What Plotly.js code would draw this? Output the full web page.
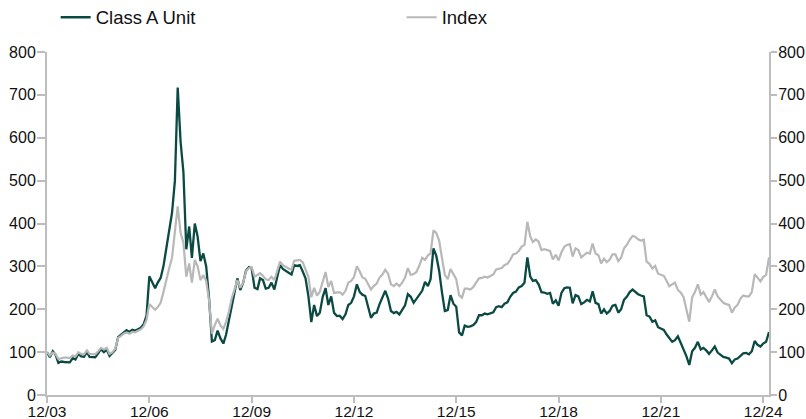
<!DOCTYPE html>
<html>
<head>
<meta charset="utf-8">
<script src="https://cdn.plot.ly/plotly-3.0.1.min.js"></script>
<style>html,body{margin:0;padding:0;background:#fff}#chart{width:806px;height:419px}</style>
</head>
<body>
<div id="chart"></div>
<script>
// Monthly observations, starting December 2003
var startYear = 2003, startMonth = 12;

var classA = [
100,88,102,94,75,78,77,77,76,86,83,96,
90,89,100,89,88,88,97,107,100,106,91,97,
105,135,141,146,151,147,152,150,154,157,165,185,
277,262,249,262,273,300,340,385,425,500,717,590,
520,340,393,320,400,370,312,330,300,225,125,128,
150,132,120,140,172,210,235,272,245,262,290,298,
295,250,247,272,268,248,250,262,246,275,303,294,
289,285,281,303,301,303,288,272,230,170,210,184,
192,229,249,210,230,192,184,185,177,188,210,215,
230,258,240,234,231,205,180,190,192,212,229,243,
225,196,191,194,188,200,209,235,229,215,224,234,
243,264,254,270,342,325,290,240,196,198,233,213,
206,146,139,162,159,160,163,170,186,186,190,188,
190,193,205,207,205,213,216,229,238,241,251,254,
262,321,276,266,268,258,240,239,236,238,213,221,
208,238,249,251,250,214,233,230,212,216,222,218,
242,215,212,190,200,190,196,208,210,192,200,222,
229,240,246,241,235,232,230,186,183,171,174,158,
155,152,141,132,124,128,137,122,108,90,70,102,
110,124,106,110,104,96,104,113,99,94,89,87,
85,74,83,85,92,97,98,95,102,126,117,113,
120,124,147
];

var indexSeries = [
100,92,99,96,84,86,87,87,86,92,90,100,
96,95,104,96,95,95,102,110,106,110,96,100,
108,133,138,143,146,143,147,146,150,153,160,175,
212,205,199,205,215,240,270,295,320,385,440,378,
355,276,307,262,315,300,268,280,266,220,143,163,
178,162,154,170,194,225,245,268,250,262,288,296,
298,276,280,284,278,270,268,276,268,290,311,303,
298,295,292,313,314,315,310,294,275,228,250,232,
241,264,287,252,266,238,239,240,234,243,262,266,
275,300,288,274,271,258,246,254,260,274,281,292,
283,258,254,260,254,262,274,296,280,282,287,302,
320,315,326,330,384,378,360,320,280,270,294,282,
270,233,227,248,248,246,252,262,272,273,276,274,
278,281,293,294,296,303,306,315,328,330,336,346,
350,404,370,357,363,358,338,340,338,336,316,327,
314,333,346,350,352,323,342,338,321,326,332,330,
353,330,326,307,318,310,316,328,328,312,320,342,
350,362,371,369,363,360,362,311,306,295,301,283,
280,278,266,254,258,262,245,239,228,200,171,228,
240,258,234,240,229,217,230,246,230,222,215,212,
210,192,204,210,225,232,230,230,240,282,273,265,
275,280,321
];

var tickVals = ['2003-12-01','2006-12-01','2009-12-01','2012-12-01','2015-12-01','2018-12-01','2021-12-01','2024-12-01'];
var tickText = ['12/03','12/06','12/09','12/12','12/15','12/18','12/21','12/24'];
var yTicks = [0,100,200,300,400,500,600,700,800];

function monthDates(n) {
  var out = [];
  for (var i = 0; i < n; i++) {
    var m0 = startMonth - 1 + i;
    var y = startYear + Math.floor(m0 / 12);
    var m = (m0 % 12) + 1;
    out.push(y + '-' + (m < 10 ? '0' + m : m) + '-01');
  }
  return out;
}
var dates = monthDates(classA.length);

var axisColor = '#bdbdbd';
var fontFam = 'Liberation Sans, Arial, sans-serif';

var traces = [
  {x: dates, y: indexSeries, name: 'Index', type: 'scatter', mode: 'lines',
   line: {color: '#b8b8b8', width: 2.2}, yaxis: 'y2'},
  {x: dates, y: classA, name: 'Class A Unit', type: 'scatter', mode: 'lines',
   line: {color: '#0b4a43', width: 2.3}, yaxis: 'y'}
];

var layout = {
  width: 806, height: 419,
  margin: {l: 47, r: 37, t: 52, b: 24, pad: 0, autoexpand: false},
  paper_bgcolor: '#fff', plot_bgcolor: '#fff',
  font: {family: fontFam, size: 16, color: '#111'},
  showlegend: true,
  legend: {orientation: 'h', x: 0.012, xanchor: 'left', y: 1.1, yanchor: 'middle',
           font: {family: fontFam, size: 18.5, color: '#111'},
           traceorder: 'reversed', entrywidth: 301, itemwidth: 30,
           bgcolor: 'rgba(0,0,0,0)'},
  xaxis: {type: 'date', range: [dates[0], dates[dates.length - 1]],
          tickvals: tickVals, ticktext: tickText, showgrid: false, zeroline: false,
          showline: true, linecolor: axisColor, linewidth: 2,
          ticks: 'outside', ticklen: 6, tickwidth: 2, tickcolor: axisColor,
          ticklabelstandoff: -5,
          tickfont: {family: fontFam, size: 15.5, color: '#111'}, fixedrange: true},
  yaxis: {range: [0, 800], tickvals: yTicks, showgrid: false, zeroline: false,
          showline: true, linecolor: axisColor, linewidth: 2,
          ticks: 'outside', ticklen: 8, tickwidth: 2, tickcolor: axisColor,
          ticklabelstandoff: -2,
          tickfont: {family: fontFam, size: 16, color: '#111'}},
  yaxis2: {range: [0, 800], tickvals: yTicks, overlaying: 'y', side: 'right',
          showgrid: false, zeroline: false,
          showline: true, linecolor: axisColor, linewidth: 2,
          ticks: 'outside', ticklen: 6, tickwidth: 2, tickcolor: axisColor,
          ticklabelstandoff: -2,
          tickfont: {family: fontFam, size: 16, color: '#111'}}
};

Plotly.newPlot('chart', traces, layout, {displayModeBar: false, staticPlot: true});
</script>
</body>
</html>
